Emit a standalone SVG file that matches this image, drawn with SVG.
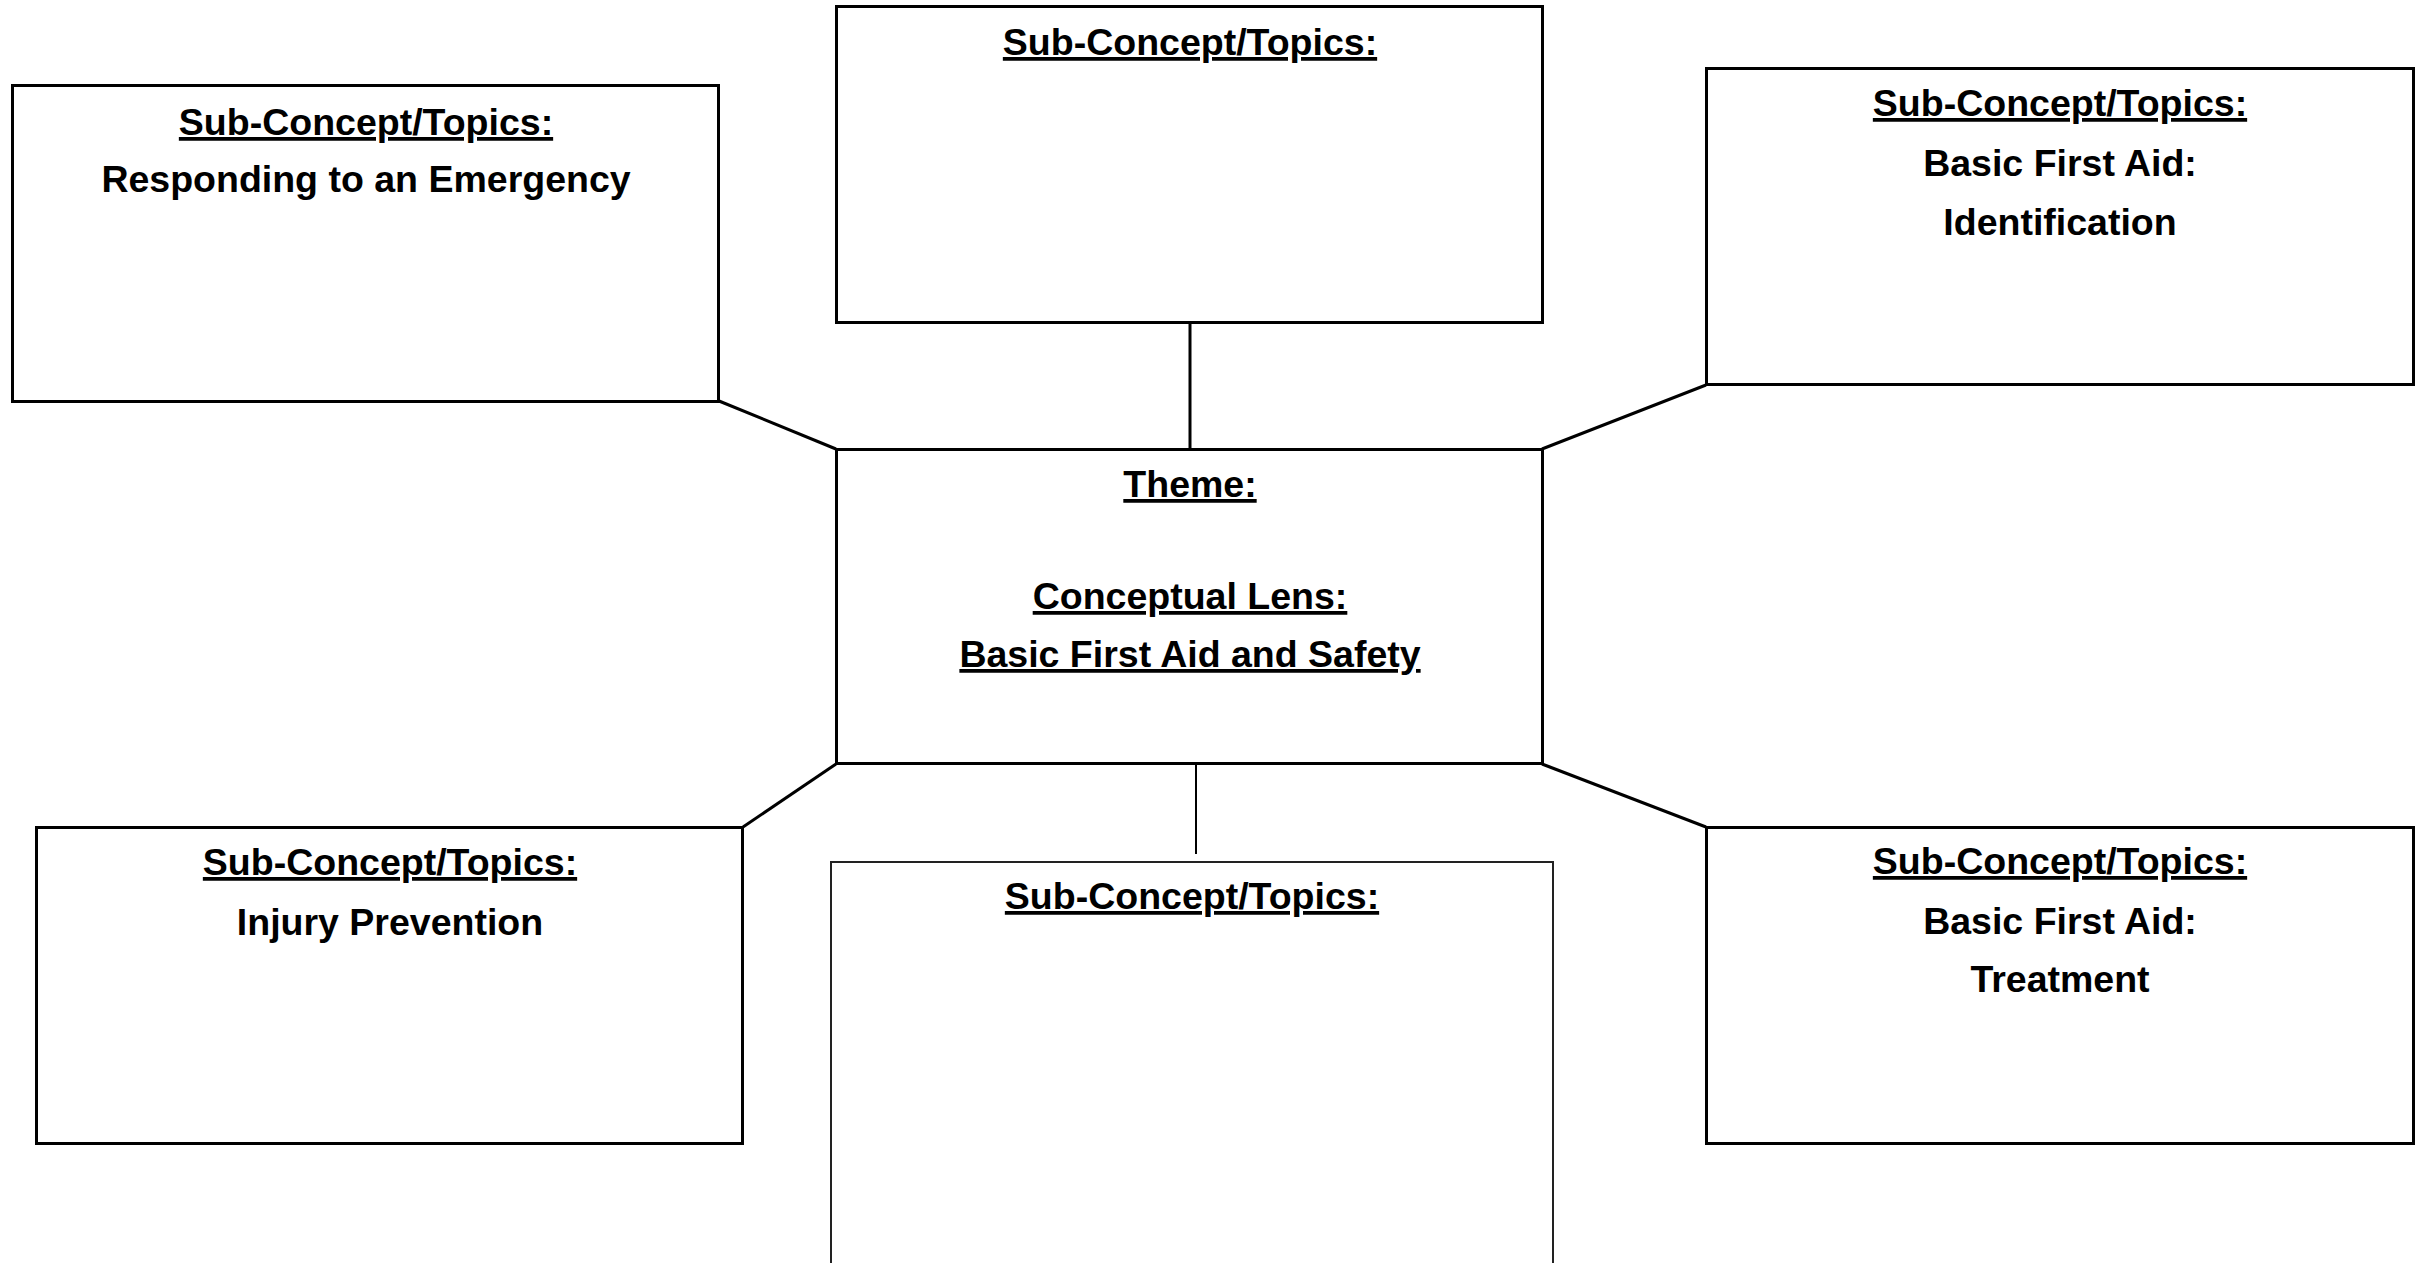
<svg xmlns="http://www.w3.org/2000/svg" width="2427" height="1263" viewBox="0 0 2427 1263">
<style>
.box{fill:#fff;stroke:#000;stroke-width:3}
.thin{fill:#fff;stroke:#222;stroke-width:2}
.con{stroke:#000;stroke-width:3;fill:none}
.con2{stroke:#000;stroke-width:2;fill:none}
text{font-family:"Liberation Sans",Arial,sans-serif;font-weight:bold;font-size:37.5px;fill:#000;text-anchor:middle}
.u{text-decoration:underline}
</style>
<rect width="2427" height="1263" fill="#fff"/>
<g id="connectors">
<line class="con" x1="719" y1="401" x2="836" y2="449"/>
<line class="con" x1="1190" y1="322" x2="1190" y2="449"/>
<line class="con" x1="1706" y1="385" x2="1542" y2="449"/>
<line class="con" x1="836" y1="764" x2="743" y2="827"/>
<line class="con2" x1="1196" y1="764" x2="1196" y2="854"/>
<line class="con" x1="1542" y1="764" x2="1706" y2="827"/>
</g>
<g id="node-responding">
<rect class="box" x="12.5" y="85.5" width="706" height="316"/>
<text x="366" y="135" class="u">Sub-Concept/Topics:</text>
<text x="366" y="192">Responding to an Emergency</text>
</g>
<g id="node-top">
<rect class="box" x="836.5" y="6.5" width="706" height="316"/>
<text x="1190" y="55" class="u">Sub-Concept/Topics:</text>
</g>
<g id="node-identification">
<rect class="box" x="1706.5" y="68.5" width="707" height="316"/>
<text x="2060" y="116" class="u">Sub-Concept/Topics:</text>
<text x="2060" y="176">Basic First Aid:</text>
<text x="2060" y="235">Identification</text>
</g>
<g id="node-theme">
<rect class="box" x="836.5" y="449.5" width="706" height="314"/>
<text x="1190" y="497" class="u">Theme:</text>
<text x="1190" y="609" class="u">Conceptual Lens:</text>
<text x="1190" y="667" class="u">Basic First Aid and Safety</text>
</g>
<g id="node-injury">
<rect class="box" x="36.5" y="827.5" width="706" height="316"/>
<text x="390" y="875" class="u">Sub-Concept/Topics:</text>
<text x="390" y="935">Injury Prevention</text>
</g>
<g id="node-bottom">
<rect class="thin" x="831" y="862" width="722" height="420"/>
<text x="1192" y="909" class="u">Sub-Concept/Topics:</text>
</g>
<g id="node-treatment">
<rect class="box" x="1706.5" y="827.5" width="707" height="316"/>
<text x="2060" y="874" class="u">Sub-Concept/Topics:</text>
<text x="2060" y="934">Basic First Aid:</text>
<text x="2060" y="992">Treatment</text>
</g>
</svg>
